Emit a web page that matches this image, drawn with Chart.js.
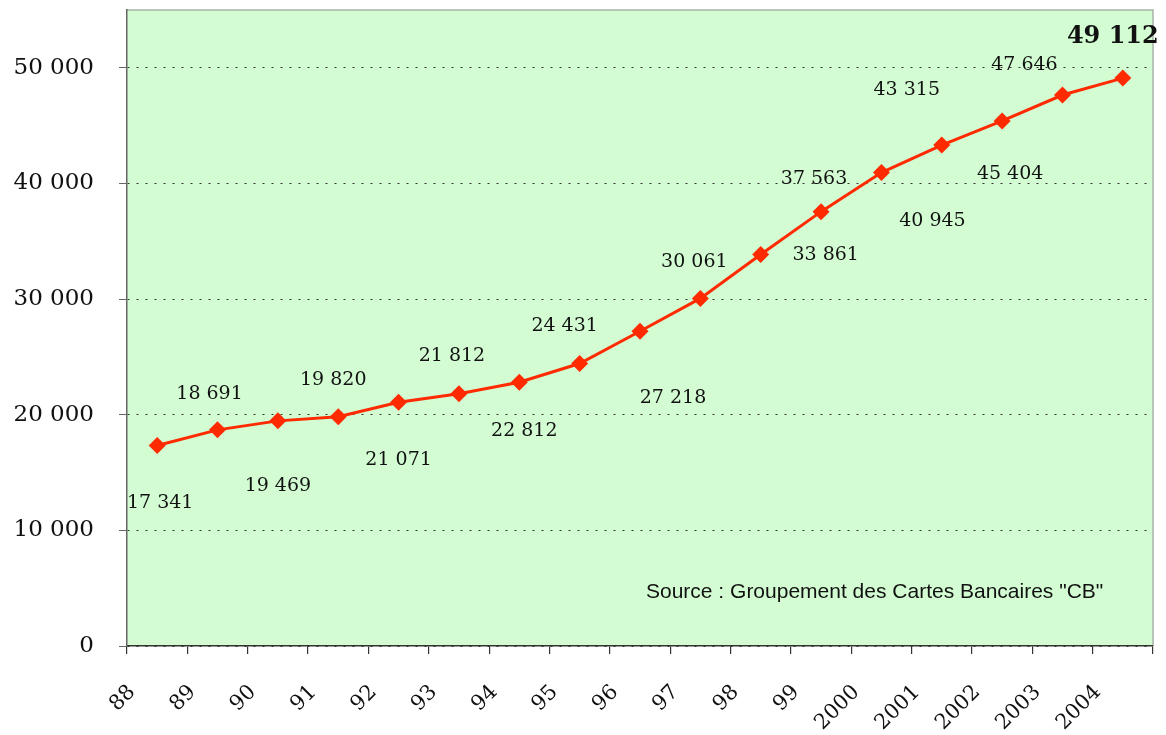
<!DOCTYPE html>
<html>
<head>
<meta charset="utf-8">
<script src="https://cdn.jsdelivr.net/npm/chart.js@4/dist/chart.umd.min.js"></script>
<style>
html,body{margin:0;padding:0;background:#fff;}
#wrap{width:1166px;height:735px;position:relative;}
</style>
</head>
<body>
<div id="wrap"><canvas id="c" width="1166" height="735"></canvas></div>
<script>
const categories = ["88","89","90","91","92","93","94","95","96","97","98","99","2000","2001","2002","2003","2004"];
const values = [17341,18691,19469,19820,21071,21812,22812,24431,27218,30061,33861,37563,40945,43315,45404,47646,49112];
const yTickValues = [0,10000,20000,30000,40000,50000];
const sourceText = 'Source : Groupement des Cartes Bancaires "CB"';
// label placement relative to each point (dx, dy) in pixels
const labelOffsets = [[3,58],[-8,-36],[0,65],[-5,-37],[0,58],[-7,-38],[5,49],[-15,-37],[33,67],[-6,-36],[65,1],[-7,-33],[51,49],[-35,-55],[8,53],[-38,-30],[-10,-41]];

function fmt(v){ return String(v).replace(/\B(?=(\d{3})+(?!\d))/g,' '); }

const decor = {
  id:'decor',
  beforeDraw(chart){
    const {ctx, chartArea:a} = chart;
    ctx.save();
    ctx.fillStyle = '#D3FCD3';
    ctx.fillRect(a.left, a.top, a.right-a.left, a.bottom-a.top);
    ctx.strokeStyle = '#A8B4A8';
    ctx.lineWidth = 1.5;
    ctx.beginPath();
    ctx.moveTo(a.left, a.top); ctx.lineTo(a.right, a.top); ctx.lineTo(a.right, a.bottom);
    ctx.stroke();
    ctx.restore();
  },
  afterDatasetsDraw(chart){
    const {ctx, chartArea:a} = chart;
    const meta = chart.getDatasetMeta(0);
    ctx.save();
    ctx.fillStyle = '#111';
    ctx.textAlign = 'center';
    ctx.textBaseline = 'middle';
    meta.data.forEach((pt,i)=>{
      const last = i === values.length-1;
      ctx.font = last ? 'bold 24px "DejaVu Serif"' : '19px "DejaVu Serif"';
      const o = labelOffsets[i];
      ctx.fillText(fmt(values[i]), pt.x + o[0], pt.y + o[1]);
    });
    ctx.font = '21px "Liberation Sans"';
    ctx.textAlign = 'left';
    ctx.fillText(sourceText, 646, 592);
    ctx.restore();
  }
};

new Chart(document.getElementById('c'), {
  type:'line',
  data:{
    labels: categories,
    datasets:[{
      data: values,
      borderColor:'#FF2A00',
      backgroundColor:'#FF2A00',
      borderWidth:3,
      tension:0,
      pointStyle:'rectRot',
      pointRadius:8.5,
      pointBorderWidth:0,
      pointHoverRadius:8.5
    }]
  },
  options:{
    responsive:false,
    animation:false,
    layout:{padding:{top:10,right:13,left:0,bottom:0}},
    plugins:{legend:{display:false},tooltip:{enabled:false}},
    scales:{
      x:{
        offset:true,
        grid:{offset:true,drawOnChartArea:false,drawTicks:true,tickLength:8,color:'#333',lineWidth:1.2},
        border:{color:'#333',width:1.5},
        ticks:{font:{family:'DejaVu Serif',size:21},color:'#111',maxRotation:45,minRotation:45,labelOffset:-25,padding:26,autoSkip:false},
        afterFit(s){ s.height = 89; s.paddingLeft = 0; s.paddingRight = 0; }
      },
      y:{
        min:0,max:55000,
        afterBuildTicks(s){ s.ticks = yTickValues.map(v=>({value:v})); },
        grid:{color:'#333',lineWidth:1,tickLength:8,tickColor:'#666',tickBorderDash:[]},
        border:{color:'#666',width:1.5,dash:[2,7]},
        ticks:{font:{family:'DejaVu Serif',size:23},color:'#111',padding:25,callback:v=>fmt(v)},
        afterFit(s){ s.width = 127; s.paddingTop = 0; s.paddingBottom = 0; }
      }
    }
  },
  plugins:[decor]
});
</script>
</body>
</html>
